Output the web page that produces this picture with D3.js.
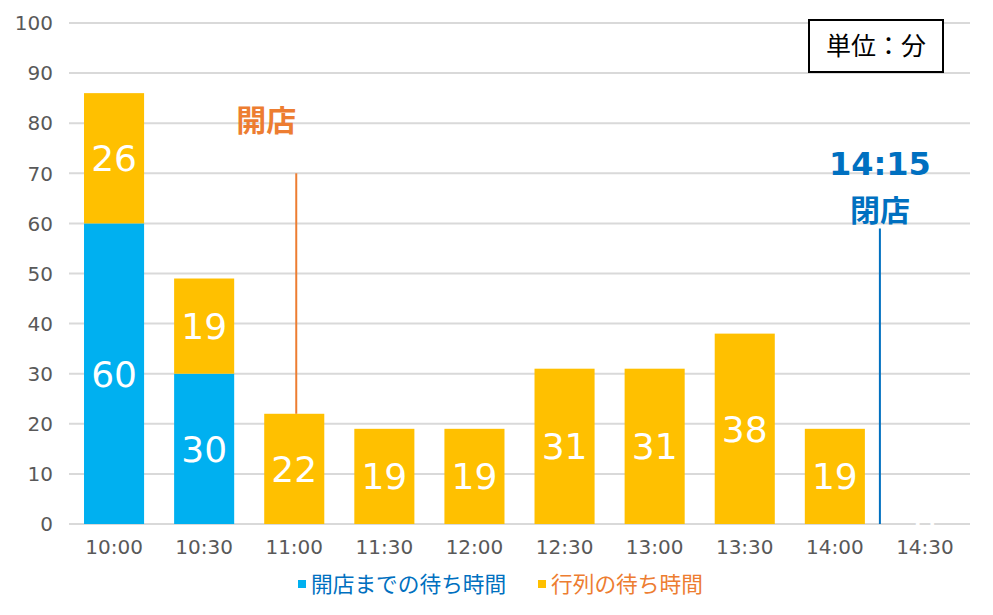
<!DOCTYPE html>
<html>
<head>
<meta charset="utf-8">
<script src="https://cdn.jsdelivr.net/npm/d3@7"></script>
<style>
  body { margin: 0; background: #fff; }
  svg text { font-family: "DejaVu Sans", "Noto Sans CJK JP", sans-serif; }
  .jp { font-family: "Noto Sans CJK JP", sans-serif; }
</style>
</head>
<body>
<div id="chart"></div>
<script>
const categories = ["10:00", "10:30", "11:00", "11:30", "12:00", "12:30", "13:00", "13:30", "14:00", "14:30"];
const beforeOpen = [60, 30, 0, 0, 0, 0, 0, 0, 0, 0];
const queueWait = [26, 19, 22, 19, 19, 31, 31, 38, 19, 0];
const seriesNames = ["開店までの待ち時間", "行列の待ち時間"];
const yTicks = [0, 10, 20, 30, 40, 50, 60, 70, 80, 90, 100];

const W = 993, H = 615;
const margin = { top: 23, right: 23, bottom: 91, left: 69 };
const width = W - margin.left - margin.right;
const height = H - margin.top - margin.bottom;

const blue = "#00B0F0", gold = "#FFC000";
const darkBlue = "#0070C0", orange = "#ED7D31";

const svg = d3.select("#chart").append("svg")
    .attr("width", W)
    .attr("height", H)
  .append("g")
    .attr("transform", `translate(${margin.left},${margin.top})`);

const x = d3.scaleBand().domain(categories).range([0, width]).paddingInner(1/3).paddingOuter(1/6);
const y = d3.scaleLinear().domain([0, 100]).range([height, 0]);
const step = x.step();

// gridlines
svg.selectAll(".grid")
  .data(yTicks)
  .enter().append("line")
    .attr("x1", 0).attr("x2", width)
    .attr("y1", d => y(d)).attr("y2", d => y(d))
    .attr("stroke", "#D9D9D9")
    .attr("stroke-width", 2);

// y labels
svg.selectAll(".ylab")
  .data(yTicks)
  .enter().append("text")
    .attr("x", -16)
    .attr("y", d => y(d))
    .attr("dy", "0.36em")
    .attr("text-anchor", "end")
    .attr("fill", "#595959")
    .style("font-size", "20px")
    .text(d => d);

// x labels
svg.selectAll(".xlab")
  .data(categories)
  .enter().append("text")
    .attr("x", d => x(d) + x.bandwidth() / 2)
    .attr("y", height + 30)
    .attr("text-anchor", "middle")
    .attr("fill", "#595959")
    .style("font-size", "20px")
    .text(d => d);

const stackData = categories.map((c, i) => ({ cat: c, a: beforeOpen[i], b: queueWait[i] }));
const stacked = d3.stack().keys(["a", "b"])(stackData);
const colors = [blue, gold];

stacked.forEach((layer, li) => {
  svg.selectAll(".bar" + li)
    .data(layer)
    .enter().append("rect")
      .attr("x", d => x(d.data.cat))
      .attr("width", x.bandwidth())
      .attr("y", d => y(d[1]))
      .attr("height", d => y(d[0]) - y(d[1]))
      .attr("fill", colors[li]);
});

// labels in bars (the empty 14:30 bar still shows a white 0 on the baseline)
stacked.forEach((layer, li) => {
  svg.selectAll(".lab" + li)
    .data(layer.filter(d => li === 1 || d[1] - d[0] > 0))
    .enter().append("text")
      .attr("x", d => x(d.data.cat) + x.bandwidth() / 2)
      .attr("y", d => y((d[0] + d[1]) / 2))
      .attr("dy", "0.36em")
      .attr("text-anchor", "middle")
      .attr("fill", "#fff")
      .style("font-size", "36px")
      .text(d => d[1] - d[0]);
});

// opening marker at 11:00
const openX = x("11:00") + x.bandwidth() / 2 + 2;
svg.append("line")
  .attr("x1", openX).attr("x2", openX)
  .attr("y1", y(70)).attr("y2", y(22))
  .attr("stroke", orange).attr("stroke-width", 2);
svg.append("text")
  .attr("class", "jp")
  .attr("x", openX - 30)
  .attr("y", y(78.5))
  .attr("text-anchor", "middle")
  .attr("fill", orange)
  .style("font-size", "30px")
  .style("font-weight", "bold")
  .text("開店");

// closing marker at 14:15
const closeX = x("14:00") + x.bandwidth() / 2 + step / 2;
svg.append("line")
  .attr("x1", closeX).attr("x2", closeX)
  .attr("y1", y(59)).attr("y2", y(0))
  .attr("stroke", darkBlue).attr("stroke-width", 2);
svg.append("text")
  .attr("x", closeX)
  .attr("y", y(69.6))
  .attr("text-anchor", "middle")
  .attr("fill", darkBlue)
  .style("font-size", "32px")
  .style("font-weight", "bold")
  .text("14:15");
svg.append("text")
  .attr("class", "jp")
  .attr("x", closeX)
  .attr("y", y(60.5))
  .attr("text-anchor", "middle")
  .attr("fill", darkBlue)
  .style("font-size", "30px")
  .style("font-weight", "bold")
  .text("閉店");

// unit box
const unit = svg.append("g").attr("transform", `translate(${width - 161},${-3})`);
unit.append("rect")
  .attr("width", 134).attr("height", 52)
  .attr("fill", "#fff")
  .attr("stroke", "#000").attr("stroke-width", 2);
unit.append("text")
  .attr("class", "jp")
  .attr("x", 67).attr("y", 35)
  .attr("text-anchor", "middle")
  .attr("fill", "#000")
  .style("font-size", "25px")
  .text("単位：分");

// legend
const legend = svg.append("g").attr("transform", `translate(0,${height + 60})`);
const legendItems = [
  { name: seriesNames[0], sq: blue, tx: darkBlue, x: 229 },
  { name: seriesNames[1], sq: gold, tx: orange, x: 469 }
];
legendItems.forEach(it => {
  legend.append("rect")
    .attr("x", it.x).attr("y", -4)
    .attr("width", 8).attr("height", 8)
    .attr("fill", it.sq);
  legend.append("text")
    .attr("class", "jp")
    .attr("x", it.x + 13).attr("y", 0)
    .attr("dy", "0.36em")
    .attr("fill", it.tx)
    .style("font-size", "21.7px")
    .text(it.name);
});
</script>
</body>
</html>
